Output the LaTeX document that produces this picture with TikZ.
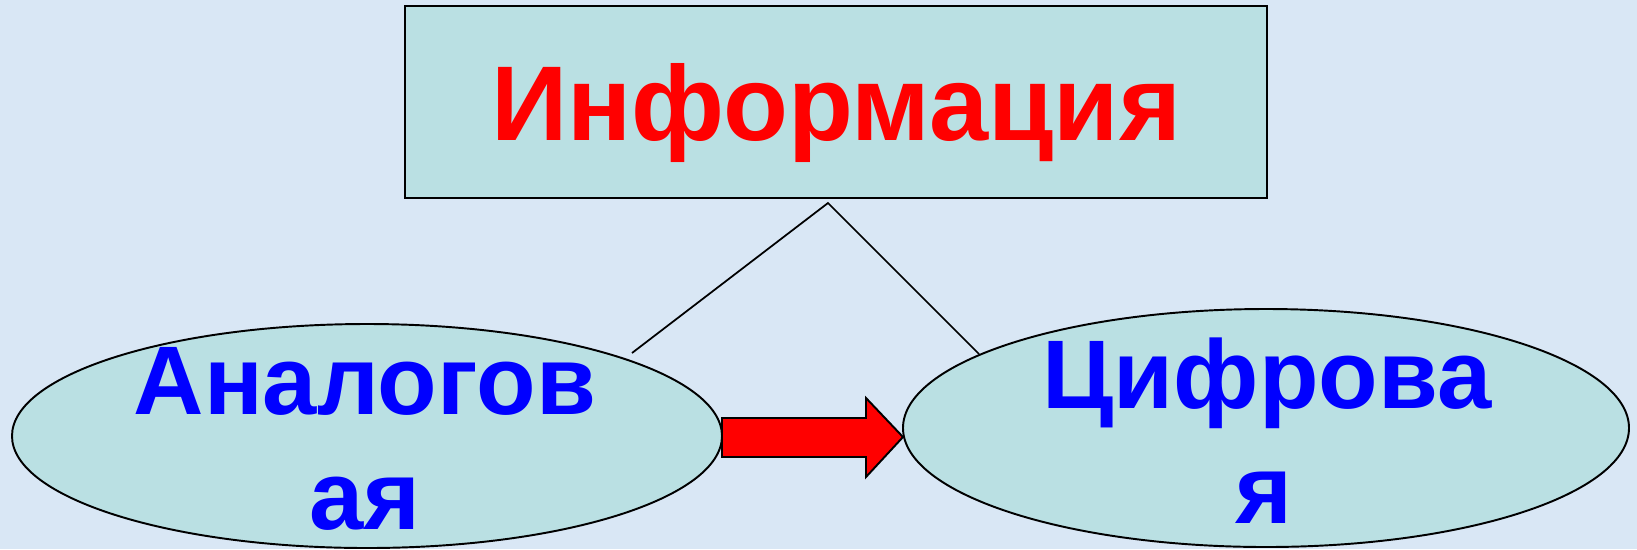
\documentclass[tikz,border=0pt]{standalone}
\usepackage{fontspec}
\setmainfont{Liberation Sans}
\usetikzlibrary{shapes.geometric}
\definecolor{bgblue}{HTML}{D9E7F5}
\definecolor{teal}{HTML}{BAE0E3}
\definecolor{txtblue}{HTML}{0000FF}
\definecolor{txtred}{HTML}{FF0000}
\tikzset{
  shapebox/.style={draw=black, line width=1.3pt, fill=teal},
  oval/.style={ellipse, draw=black, line width=1.1pt, fill=teal, inner sep=0pt},
  bluetext/.style={text=txtblue, font=\bfseries\fontsize{55.5}{65}\selectfont, align=center, inner sep=0pt},
  link/.style={draw=black, line width=1pt},
}
\begin{document}
\begin{tikzpicture}[x=0.02cm,y=-0.02cm]
\fill[bgblue] (0,0) rectangle (1637,549);
\useasboundingbox (0,0) rectangle (1637,549);
% top box
\node[shapebox, minimum width=862*0.02cm, minimum height=192*0.02cm, inner sep=0pt] (info) at (836,102) {};
\node[text=txtred, font=\bfseries\fontsize{60.5}{70}\selectfont, inner sep=0pt, anchor=base] (infotext) at (836,140) {Информация};
% ellipses
\node[oval, minimum width=710*0.02cm, minimum height=224*0.02cm] (analog) at (367,436) {};
\node[oval, minimum width=726*0.02cm, minimum height=238*0.02cm] (digital) at (1266,428) {};
% texts
\node[bluetext, anchor=base] (analogtext) at (365,414) {Аналогов};
\node[bluetext, anchor=base] (analogtext2) at (365,529) {ая};
\node[bluetext, anchor=base] (digitaltext) at (1267,408) {Цифрова};
\node[bluetext, anchor=base] (digitaltext2) at (1264,523) {я};
% connectors
\coordinate (apex) at (828,203);
\coordinate (lend) at (632,353);
\coordinate (rend) at (979,354);
\draw[link] (lend) -- (apex) -- (rend);
% arrow
\draw[fill=txtred, draw=black, line width=1.1pt]
  (722,418) -- (866,418) -- (866,398) -- (903,437) -- (866,477) -- (866,457) -- (722,457) -- cycle;
\end{tikzpicture}
\end{document}
